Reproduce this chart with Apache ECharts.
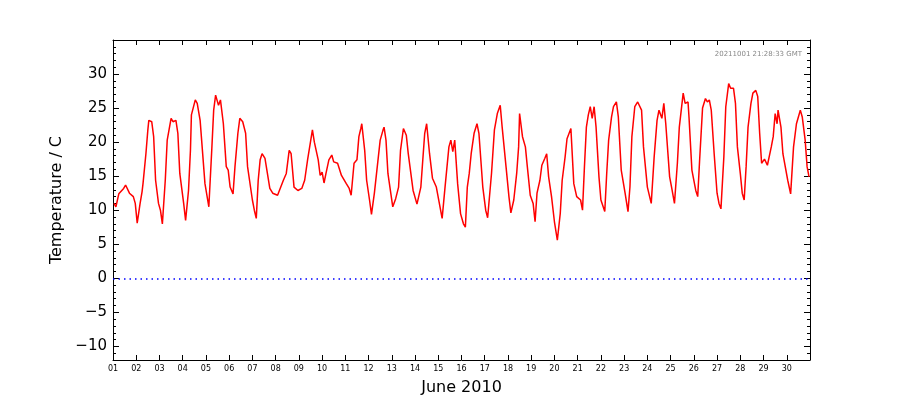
<!DOCTYPE html>
<html>
<head>
<meta charset="utf-8">
<title>June 2010 temperature</title>
<script src="https://cdn.jsdelivr.net/npm/echarts@6/dist/echarts.min.js"></script>
<style>
	html, body { margin: 0; padding: 0; background: #fff; }
	#temp-line-wrapper { width: 900px; height: 400px; }
</style>
</head>
<body>
<div id="temp-line-wrapper"></div>
<script>
// hours since 2010-06-01 00:00 GMT
var hours = [
	1, 3, 6, 11, 13, 17, 21, 23, 25, 28, 30, 31, 34, 36, 37, 40, 42, 44, 47, 49,
	51, 54, 56, 60, 62, 65, 67, 69, 73, 75, 78, 80, 81, 85, 87, 90, 95, 99, 102, 104,
	106, 109, 111, 114, 117, 119, 121, 124, 126, 129, 131, 134, 137, 139, 144, 146, 148, 150, 152, 154,
	157, 159, 162, 165, 170, 172, 176, 179, 182, 184, 187, 191, 195, 198, 201, 206, 208, 212, 214, 216,
	218, 220, 223, 226, 228, 232, 236, 241, 244, 246, 249, 252, 254, 256, 257, 260, 262, 265, 267, 270,
	273, 276, 279, 280, 282, 284, 289, 292, 295, 297, 300, 303, 305, 310, 314, 318, 322, 324, 327, 330,
	334, 340, 343, 347, 349, 351, 353, 356, 359, 362, 364, 366, 368, 370, 373, 376, 378, 382, 385, 387,
	391, 394, 397, 400, 402, 406, 409, 411, 414, 417, 419, 420, 423, 426, 428, 431, 434, 436, 438, 441,
	443, 446, 448, 450, 453, 456, 459, 462, 464, 467, 469, 473, 474, 476, 479, 483, 485, 487, 489, 491,
	493, 495, 497, 499, 502, 504, 508, 510, 512, 515, 517, 520, 522, 525, 529, 532, 534, 536, 539, 542,
	546, 548, 552, 556, 559, 562, 564, 567, 569, 571, 575, 577, 580, 583, 585, 587, 589, 591, 594, 595,
	598, 602, 604, 606, 609, 612, 614, 616, 618, 621, 624, 626, 628, 631, 633, 636, 638, 641, 643, 645,
	648, 650, 652, 654, 656, 659, 661, 664, 666, 668, 670, 673, 676, 678, 680, 682, 684, 686, 687, 690,
	692, 697, 700, 703, 706, 708, 710, 712, 715, 717, 719
];
var temps = [
	11.0, 10.5, 12.4, 13.2, 13.7, 12.5, 12.0, 11.0, 8.1, 11.0, 12.7, 13.9, 18.3, 21.8, 23.2, 23.0, 20.8, 14.4, 11.0, 10.0,
	8.0, 14.4, 20.3, 23.5, 23.0, 23.2, 21.3, 15.4, 11.0, 8.5, 12.9, 18.8, 24.0, 26.2, 25.7, 23.2, 13.9, 10.5, 18.8, 24.7,
	26.9, 25.4, 26.2, 22.7, 16.4, 15.9, 13.4, 12.4, 16.4, 21.3, 23.5, 23.0, 21.3, 16.4, 11.5, 10.0, 8.8, 14.4, 17.4, 18.3,
	17.6, 17.8, 13.2, 12.5, 12.2, 12.2, 14.4, 15.4, 18.8, 18.3, 13.4, 12.9, 13.2, 14.4, 17.4, 21.8, 20.0, 17.4, 15.1, 15.6,
	14.0, 15.4, 17.4, 18.1, 17.1, 16.9, 15.1, 13.9, 13.2, 12.2, 16.9, 17.4, 20.8, 22.0, 22.7, 18.8, 14.4, 11.5, 9.4, 12.5,
	16.4, 20.3, 21.8, 22.2, 20.3, 15.4, 10.5, 11.7, 13.4, 18.8, 22.0, 21.0, 18.3, 12.9, 10.9, 13.4, 21.3, 22.7, 18.3, 14.7,
	13.4, 8.8, 13.4, 19.3, 20.3, 18.6, 20.3, 13.9, 9.5, 8.0, 7.5, 13.4, 15.4, 18.3, 21.3, 22.7, 21.3, 13.4, 10.0, 8.9,
	15.4, 21.8, 24.2, 25.4, 22.2, 16.4, 12.0, 9.6, 11.5, 15.4, 19.3, 24.2, 20.8, 19.3, 16.4, 12.2, 11.0, 8.3, 12.5, 14.4,
	16.6, 17.6, 18.3, 14.9, 12.0, 8.3, 5.6, 9.5, 14.4, 17.8, 20.5, 22.0, 22.0, 13.9, 12.0, 11.5, 10.0, 16.4, 22.2, 24.0,
	25.2, 23.5, 25.2, 22.2, 14.9, 11.5, 9.8, 15.4, 20.3, 23.7, 25.2, 25.9, 23.7, 15.9, 12.5, 9.8, 13.4, 20.8, 25.2, 25.9,
	24.7, 19.3, 13.4, 11.0, 17.8, 23.2, 24.7, 23.5, 25.7, 22.7, 14.9, 13.4, 11.0, 16.9, 22.2, 24.7, 27.2, 25.7, 25.9, 23.7,
	15.9, 12.9, 12.0, 17.4, 25.0, 26.4, 25.9, 26.2, 24.7, 18.3, 12.5, 11.0, 10.2, 17.8, 25.2, 28.6, 27.9, 27.9, 25.7, 19.3,
	15.4, 12.5, 11.5, 16.4, 22.2, 25.7, 27.2, 27.6, 26.7, 21.3, 16.9, 17.5, 16.6, 16.4, 19.3, 20.8, 24.2, 22.7, 24.7, 22.2,
	18.3, 14.4, 12.4, 19.3, 22.7, 23.7, 24.7, 23.7, 20.3, 16.4, 14.9
];
var yMajorTicks = [-10, -5, 0, 5, 10, 15, 20, 25, 30];
var stampText = '20211001 21:28:33 GMT';

var fontName = 'DejaVu Sans';

function pad(n) {
	return n < 10 ? '0' + n : '' + n;
}

/*拼数据*/
var lineData = [];
for (var i = 0; i < hours.length; i++) {
	lineData.push([hours[i], temps[i]]);
}

function dayAxis(pos, showLabel) {
	return {
		type: 'value',
		position: pos,
		min: 0,
		max: 720,
		interval: 24,
		axisLine: { show: true, onZero: false, lineStyle: { color: '#000', width: 1 } },
		axisTick: { show: true, inside: true, length: 5, lineStyle: { color: '#000' } },
		axisLabel: {
			show: showLabel,
			fontSize: 8,
			fontFamily: fontName,
			color: '#000',
			margin: 5,
			formatter: function (v) {
				if (v >= 720) return '';
				return pad(Math.round(v / 24) + 1);
			}
		},
		splitLine: { show: false }
	};
}

function majorAxis(pos, showLabel) {
	return {
		type: 'value',
		position: pos,
		min: -12,
		max: 35,
		axisLine: { show: true, onZero: false, lineStyle: { color: '#000', width: 1 } },
		axisTick: { show: true, inside: true, length: 6, customValues: yMajorTicks, lineStyle: { color: '#000' } },
		axisLabel: {
			show: showLabel,
			customValues: yMajorTicks,
			fontSize: 15,
			fontFamily: fontName,
			color: '#000',
			margin: 6,
			formatter: function (v) {
				return v < 0 ? '\u2212' + Math.abs(v) : '' + v;
			}
		},
		splitLine: { show: false }
	};
}

function minorAxis(pos) {
	return {
		type: 'value',
		position: pos,
		min: -12,
		max: 35,
		interval: 1,
		axisLine: { show: false, onZero: false },
		axisTick: { show: true, inside: true, length: 3, lineStyle: { color: '#000' } },
		axisLabel: { show: false },
		splitLine: { show: false }
	};
}

var xBottom = dayAxis('bottom', true);
xBottom.name = 'June 2010';
xBottom.nameLocation = 'middle';
xBottom.nameGap = 20;
xBottom.nameTextStyle = { fontSize: 16, fontFamily: fontName, color: '#000' };

var yLeft = majorAxis('left', true);
yLeft.name = 'Temperature / C';
yLeft.nameLocation = 'middle';
yLeft.nameRotate = 90;
yLeft.nameGap = 46;
yLeft.nameTextStyle = { fontSize: 16, fontFamily: fontName, color: '#000' };

var chart = echarts.init(document.getElementById('temp-line-wrapper'));
var option = {
	backgroundColor: '#fff',
	animation: false,
	grid: { left: 113, right: 90, top: 40, bottom: 40, containLabel: false, outerBoundsMode: 'none' },
	xAxis: [xBottom, dayAxis('top', false)],
	yAxis: [yLeft, minorAxis('left'), majorAxis('right', false), minorAxis('right')],
	graphic: [{
		type: 'text',
		right: 98,
		top: 51,
		style: {
			text: stampText,
			fontSize: 7,
			fontFamily: fontName,
			fill: '#888'
		}
	}],
	series: [{
		type: 'line',
		xAxisIndex: 0,
		yAxisIndex: 0,
		data: lineData,
		showSymbol: false,
		lineStyle: { color: '#ff0000', width: 1.5 },
		itemStyle: { color: '#ff0000' },
		markLine: {
			silent: true,
			symbol: ['none', 'none'],
			label: { show: false },
			lineStyle: { color: '#0000ff', width: 1.5, type: [1.5, 4] },
			data: [{ yAxis: 0 }]
		}
	}]
};
chart.setOption(option);
</script>
</body>
</html>
